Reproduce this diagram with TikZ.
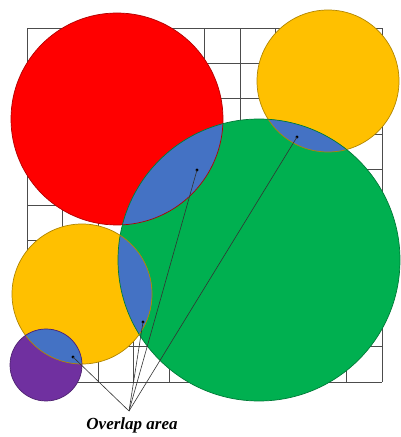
\documentclass[tikz,border=0pt]{standalone}
\usepackage{fontspec}
\setmainfont{Liberation Serif}
\begin{document}
\begin{tikzpicture}[x=1pt,y=1pt,
  gridline/.style={draw=black!70,line width=0.9pt},
  disc/.style={line width=0.7pt},
  pointer/.style={draw=black!80,line width=0.6pt},
  dotmark/.style={circle,fill=black,inner sep=0pt,minimum size=3.2pt},
  lbl/.style={font=\fontsize{17}{20}\selectfont\bfseries\itshape,inner sep=0pt}]
\definecolor{cred}{HTML}{FF0000}
\definecolor{cyellow}{HTML}{FFC000}
\definecolor{cgreen}{HTML}{00B050}
\definecolor{ovblue}{HTML}{4472C4}
\definecolor{cpurple}{HTML}{7030A0}
\useasboundingbox (0,0) rectangle (400,437);
\fill[white] (0,0) rectangle (400,437);
% grid
\foreach \i in {0,...,10} {
  \draw[gridline] (27+35.5*\i,55) -- (27+35.5*\i,409);
  \draw[gridline] (27,55+35.4*\i) -- (382,55+35.4*\i);
}
% circles
\def\redc{(117,318) circle[radius=106pt]}
\def\ytrc{(328,356) circle[radius=71pt]}
\def\greenc{(259,177) circle[radius=141pt]}
\def\yllc{(82,143) circle[radius=70pt]}
\def\purc{(46,72) circle[radius=36pt]}
\fill[cred] \redc;
\fill[cyellow] \ytrc;
\fill[cgreen] \greenc;
\fill[cyellow] \yllc;
\fill[cpurple] \purc;
% overlaps
\begin{scope}\clip \greenc; \fill[ovblue] \redc; \end{scope}
\begin{scope}\clip \greenc; \fill[ovblue] \ytrc; \end{scope}
\begin{scope}\clip \greenc; \fill[ovblue] \yllc; \end{scope}
\begin{scope}\clip \purc; \fill[ovblue] \yllc; \end{scope}
% outlines
\draw[disc,draw=cred!70!black] \redc;
\draw[disc,draw=cyellow!70!black] \ytrc;
\draw[disc,draw=cgreen!70!black] \greenc;
\draw[disc,draw=cyellow!70!black] \yllc;
\draw[disc,draw=cpurple!70!black] \purc;
% markers
\node[dotmark] (d1) at (197,267) {};
\node[dotmark] (d2) at (297,300) {};
\node[dotmark] (d3) at (143,115) {};
\node[dotmark] (d4) at (73,80) {};
\coordinate (conv) at (129,26);
\node[lbl] (label) at (132,12) {Overlap area};
\draw[pointer] (conv) -- (d1.center);
\draw[pointer] (conv) -- (d2.center);
\draw[pointer] (conv) -- (d3.center);
\draw[pointer] (conv) -- (d4.center);
\end{tikzpicture}
\end{document}
